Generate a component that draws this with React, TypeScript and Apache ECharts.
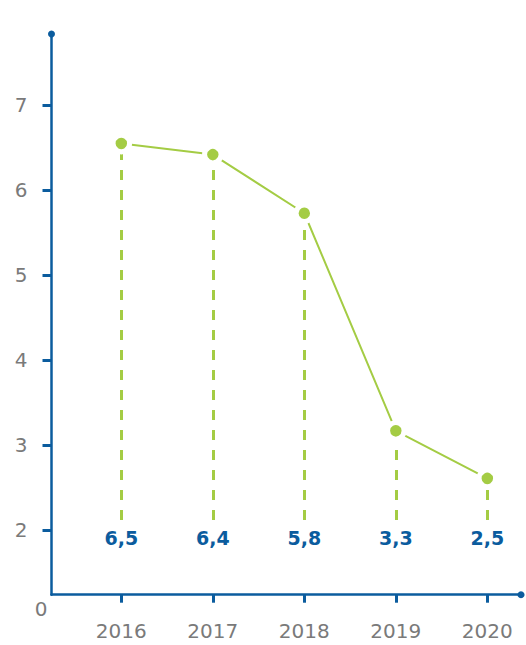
import React, { useEffect, useRef } from "react";
import * as echarts from "echarts";

const years = [2016, 2017, 2018, 2019, 2020];
const values = [6.55, 6.42, 5.73, 3.17, 2.61];
const valueLabels = ["6,5", "6,4", "5,8", "3,3", "2,5"];
const yTicks = [2, 3, 4, 5, 6, 7];

const BLUE = "#0b5c9e";
const GREEN = "#a4cc44";
const GRAY = "#7a7a7a";
const FONT = "DejaVu Sans";
const DASH_BASE = 2.12;
const LABEL_BASE = 1.91;

export default function App() {
  const ref = useRef<HTMLDivElement>(null);
  useEffect(() => {
    if (!ref.current) return;
    const chart = echarts.init(ref.current, undefined, { renderer: "svg" });
    chart.setOption({
      animation: false,
      grid: {
        left: 51.5,
        right: 5,
        top: 34,
        bottom: 50.3,
        containLabel: false,
        outerBoundsMode: "none",
      },
      xAxis: {
        type: "value",
        min: 2015.237,
        max: 2020.368,
        axisLine: {
          show: true,
          lineStyle: { color: BLUE, width: 2.5 },
          symbol: ["none", "circle"],
          symbolSize: [7, 7],
        },
        axisTick: {
          show: true,
          customValues: years,
          length: 8,
          lineStyle: { color: BLUE, width: 3 },
        },
        axisLabel: {
          customValues: years,
          formatter: (v: number) => String(Math.round(v)),
          margin: 26,
          color: GRAY,
          fontSize: 20,
          fontFamily: FONT,
        },
        splitLine: { show: false },
      },
      yAxis: {
        type: "value",
        min: 1.242,
        max: 7.839,
        axisLine: {
          show: true,
          lineStyle: { color: BLUE, width: 2.5 },
          symbol: ["none", "circle"],
          symbolSize: [7, 7],
        },
        axisTick: {
          show: true,
          customValues: yTicks,
          length: 9,
          lineStyle: { color: BLUE, width: 3 },
        },
        axisLabel: {
          customValues: yTicks,
          formatter: (v: number) => String(Math.round(v)),
          margin: 24,
          color: GRAY,
          fontSize: 20,
          fontFamily: FONT,
        },
        splitLine: { show: false },
      },
      graphic: [
        {
          type: "text",
          x: 41,
          y: 609,
          style: {
            text: "0",
            align: "center",
            verticalAlign: "middle",
            fill: GRAY,
            fontSize: 20,
            fontFamily: FONT,
          },
        },
      ],
      series: [
        {
          type: "line",
          z: 5,
          data: years.map((y, i) => [y, values[i]]),
          symbol: "circle",
          symbolSize: 16.5,
          itemStyle: { color: GREEN, borderColor: "#ffffff", borderWidth: 5 },
          lineStyle: { color: GREEN, width: 2 },
          markLine: {
            silent: true,
            z: 1,
            symbol: ["none", "none"],
            label: { show: false },
            lineStyle: { color: GREEN, width: 3, type: [10, 10], opacity: 1 },
            emphasis: { disabled: true },
            data: years.map((y, i) => [
              { coord: [y, DASH_BASE] },
              { coord: [y, values[i]] },
            ]),
          },
        },
        {
          type: "scatter",
          z: 6,
          data: years.map((y) => [y, LABEL_BASE]),
          symbolSize: 1,
          itemStyle: { color: "rgba(0,0,0,0)", opacity: 1 },
          label: {
            show: true,
            position: "inside",
            formatter: (p: any) => valueLabels[p.dataIndex],
            color: BLUE,
            opacity: 1,
            fontSize: 19,
            fontWeight: "bold",
            fontFamily: FONT,
          },
        },
      ],
    });
    return () => chart.dispose();
  }, []);
  return (
    <div
      ref={ref}
      style={{ position: "fixed", left: 0, top: 0, width: 526, height: 645, background: "#fff" }}
    />
  );
}
